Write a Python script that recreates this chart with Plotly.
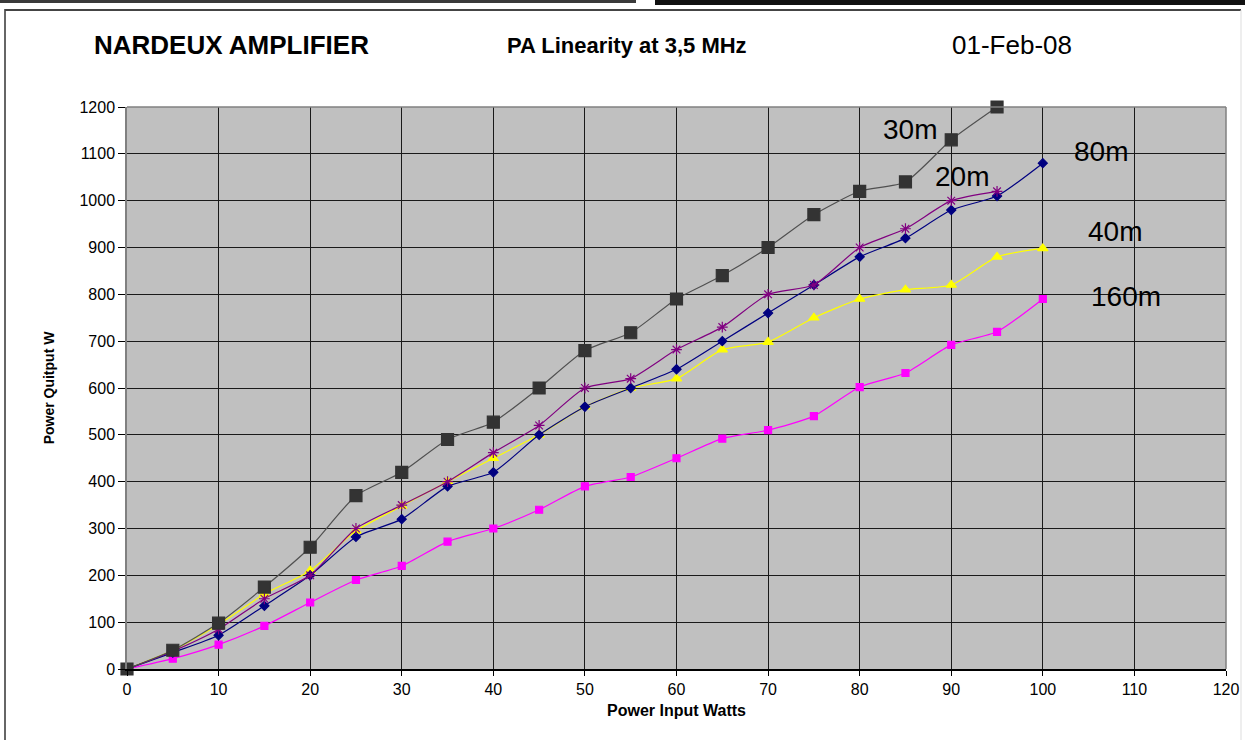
import plotly.graph_objects as go

# ---- data ----
power_in = [0, 5, 10, 15, 20, 25, 30, 35, 40, 45, 50, 55, 60, 65, 70, 75, 80, 85, 90, 95, 100]

out_30m = [0, 40, 98, 175, 260, 370, 420, 490, 527, 600, 680, 718, 790, 840, 900, 970, 1020, 1040, 1130, 1200]
out_80m = [0, 35, 72, 135, 200, 282, 320, 390, 420, 500, 560, 600, 640, 700, 760, 820, 880, 920, 980, 1010, 1080]
out_20m = [0, 38, 85, 150, 200, 300, 350, 400, 462, 520, 600, 620, 682, 730, 800, 820, 900, 940, 1000, 1020]
out_40m = [0, 40, 95, 160, 210, 295, 348, 400, 450, 500, 560, 600, 620, 682, 698, 750, 790, 810, 820, 880, 898]
out_160m = [0, 22, 52, 92, 142, 190, 220, 272, 300, 340, 390, 410, 450, 492, 510, 540, 602, 632, 692, 720, 790]

x_ticks = list(range(0, 121, 10))
y_ticks = list(range(0, 1201, 100))

series = [
    ("160m", out_160m, "#FF00FF", "square", 7, "#FF00FF"),
    ("40m", out_40m, "#FFFF00", "triangle-up", 9, "#FFFF00"),
    ("80m", out_80m, "#000080", "diamond", 7, "#000080"),
    ("20m", out_20m, "#800080", "asterisk-open", 9, "#800080"),
    ("30m", out_30m, "#505050", "square", 12, "#333333"),
]

fig = go.Figure()
for name, vals, lcol, sym, size, mcol in series:
    fig.add_trace(go.Scatter(
        x=power_in[:len(vals)], y=vals, name=name, mode="lines+markers",
        line=dict(color=lcol, width=1.2, shape="spline", smoothing=0.6),
        marker=dict(symbol=sym, size=size, color=mcol,
                    line=dict(color=mcol, width=1.2)),
        showlegend=False, cliponaxis=False,
    ))

label_font = dict(family="Liberation Sans, Arial, sans-serif", size=28, color="black")
labels = [("30m", 85.5, 1152), ("80m", 106.3, 1106), ("20m", 91.2, 1051), ("40m", 107.9, 934), ("160m", 109.1, 795)]
for txt, lx, ly in labels:
    fig.add_annotation(x=lx, y=ly, xref="x", yref="y", text=txt, showarrow=False,
                       xanchor="center", yanchor="middle", font=label_font)

head_font = "Liberation Sans, Arial, sans-serif"

W, H = 1245, 740
L, R, T, B = 127, 19, 107, 71


def px(xp):
    return (xp - L) / (W - L - R)


def py(yp):
    return (H - B - yp) / (H - T - B)


fig.add_annotation(x=px(92), y=py(45), xref="paper", yref="paper", text="<b>NARDEUX AMPLIFIER</b>",
                   showarrow=False, xanchor="left", yanchor="middle",
                   font=dict(family=head_font, size=26, color="black"))
fig.add_annotation(x=px(505), y=py(45), xref="paper", yref="paper", text="<b>PA Linearity at 3,5 MHz</b>",
                   showarrow=False, xanchor="left", yanchor="middle",
                   font=dict(family=head_font, size=22, color="black"))
fig.add_annotation(x=px(950), y=py(45), xref="paper", yref="paper", text="01-Feb-08",
                   showarrow=False, xanchor="left", yanchor="middle",
                   font=dict(family=head_font, size=26, color="black"))

shapes = [
    # outer chart border
    dict(type="line", xref="paper", yref="paper", x0=px(5), x1=px(5), y0=py(9), y1=py(740),
         line=dict(color="#333333", width=1.5)),
    dict(type="line", xref="paper", yref="paper", x0=px(5), x1=px(1241), y0=py(10), y1=py(10),
         line=dict(color="#444444", width=2)),
    dict(type="line", xref="paper", yref="paper", x0=px(1241), x1=px(1241), y0=py(10), y1=py(740),
         line=dict(color="#DDDDDD", width=1)),
    # top strips
    dict(type="rect", xref="paper", yref="paper", x0=px(0), x1=px(636), y0=py(0), y1=py(3),
         fillcolor="#3A3A3A", line=dict(width=0)),
    dict(type="rect", xref="paper", yref="paper", x0=px(655), x1=px(1245), y0=py(0), y1=py(5),
         fillcolor="#111111", line=dict(width=0)),
    # plot area top/right border (grey)
    dict(type="line", xref="paper", yref="paper", x0=0, x1=1, y0=1, y1=1,
         line=dict(color="#808080", width=1.5)),
    dict(type="line", xref="paper", yref="paper", x0=1, x1=1, y0=0, y1=1,
         line=dict(color="#808080", width=1.5)),
]

fig.update_layout(
    width=W, height=H,
    margin=dict(l=L, r=R, t=T, b=B, pad=0, autoexpand=False),
    paper_bgcolor="white",
    plot_bgcolor="#C0C0C0",
    shapes=shapes,
    font=dict(family=head_font, color="black"),
    xaxis=dict(
        range=[0, 120], tickmode="array", tickvals=x_ticks,
        ticktext=[str(v) for v in x_ticks], automargin=False,
        showgrid=True, gridcolor="#1A1A1A", gridwidth=1,
        zeroline=False, showline=True, linecolor="#000000", linewidth=1.5,
        ticks="outside", ticklen=5, tickcolor="#000000",
        tickfont=dict(size=16, family=head_font),
        title=dict(text="<b>Power Input Watts</b>", font=dict(size=16, family=head_font), standoff=8),
    ),
    yaxis=dict(
        range=[0, 1200], tickmode="array", tickvals=y_ticks,
        ticktext=[str(v) for v in y_ticks], automargin=False,
        showgrid=True, gridcolor="#1A1A1A", gridwidth=1,
        zeroline=False, showline=True, linecolor="#808080", linewidth=1.5,
        ticks="outside", ticklen=7, tickcolor="#000000",
        tickfont=dict(size=16, family=head_font),
        title=dict(text="<b>Power Quitput W</b>", font=dict(size=14, family=head_font), standoff=22),
    ),
)

fig.write_html("out.html", config={"displayModeBar": False},
               post_script="document.body.style.margin='0';document.body.style.overflow='hidden';")
